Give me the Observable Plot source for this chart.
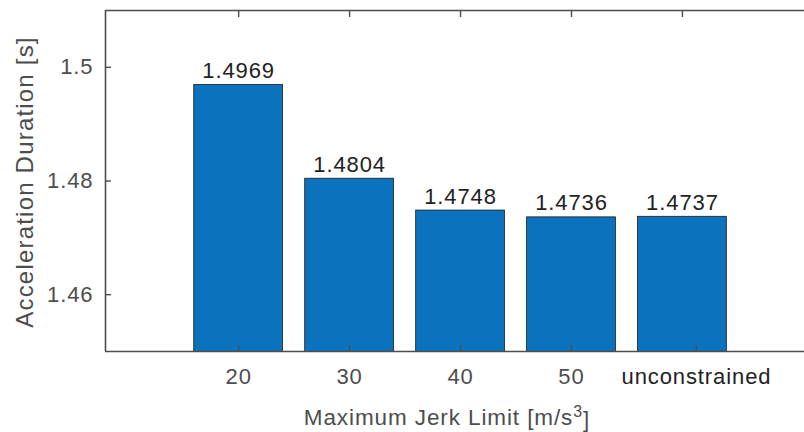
<!DOCTYPE html>
<html>
<head>
<meta charset="utf-8">
<script src="https://cdn.jsdelivr.net/npm/d3@7"></script>
<script src="https://cdn.jsdelivr.net/npm/@observablehq/plot@0.6"></script>
<style>
  html, body { margin: 0; padding: 0; background: #fff; }
  #chart svg { display: block; }
</style>
</head>
<body>
<div id="chart"></div>
<script>
// Jerk limit settings and the resulting acceleration durations (s)
const categories = ["20", "30", "40", "50", "unconstrained"];
const durations = [1.4969, 1.4804, 1.4748, 1.4736, 1.4737];
const yTicks = [1.46, 1.48, 1.5];
const yDomain = [1.45, 1.51];
const xDomain = [-0.2, 6.1];
const yLabel = "Acceleration Duration [s]";
const xLabelMain = "Maximum Jerk Limit [m/s";
const xLabelExp = "3";
const xLabelEnd = "]";

const positions = categories.map((_, i) => i + 1);
const bars = categories.map((c, i) => ({pos: i + 1, label: c, value: durations[i]}));

const axisColor = "#4d4d4d";
const inkColor = "#222222";
const font = {fontFamily: "'Liberation Sans', Arial, Helvetica, sans-serif", fontSize: "22px", letterSpacing: "0.9px"};

const chart = Plot.plot({
  width: 804,
  height: 432,
  marginLeft: 105,
  marginRight: 0,
  marginTop: 10,
  marginBottom: 81,
  style: {...font, background: "#fff", overflow: "visible"},
  x: {type: "linear", domain: xDomain},
  y: {domain: yDomain},
  marks: [
    Plot.rectY(bars, {
      x1: d => d.pos - 0.4,
      x2: d => d.pos + 0.4,
      y: "value",
      fill: "#0b72bd",
      stroke: "#1a1a1a",
      strokeWidth: 0.8,
      clip: true
    }),
    Plot.text(bars, {
      x: "pos",
      y: "value",
      text: d => d.value.toFixed(4),
      dy: -7,
      lineAnchor: "bottom",
      fill: inkColor,
      fontSize: 22
    }),
    // box lines: bottom, top and left
    Plot.ruleY(yDomain, {stroke: axisColor, strokeWidth: 1.6}),
    Plot.ruleX([xDomain[0]], {stroke: axisColor, strokeWidth: 1.6}),
    // y axis, ticks pointing inward
    Plot.axisY({
      ticks: yTicks,
      tickFormat: d => String(d),
      tickSize: -6,
      tickPadding: 18,
      stroke: axisColor,
      strokeWidth: 1.4,
      fill: axisColor,
      fontSize: 22,
      label: null
    }),
    // x axis, numeric limits in grey
    Plot.axisX({
      ticks: positions.slice(0, 4),
      tickFormat: p => categories[p - 1],
      tickSize: -6,
      tickPadding: 23,
      stroke: axisColor,
      strokeWidth: 1.4,
      fill: axisColor,
      fontSize: 22,
      label: null
    }),
    // x axis, the unconstrained case in dark text, set slightly right of its tick
    Plot.axisX({
      ticks: positions.slice(4),
      tickFormat: p => categories[p - 1],
      tickSize: -6,
      tickPadding: 23,
      stroke: axisColor,
      strokeWidth: 1.4,
      fill: inkColor,
      fontSize: 22,
      dx: 14,
      label: null
    }),
    // inward ticks along the top edge
    Plot.axisX({
      anchor: "top",
      ticks: positions,
      tickFormat: () => "",
      tickSize: -6,
      stroke: axisColor,
      strokeWidth: 1.4,
      label: null
    }),
    Plot.text([yLabel], {
      frameAnchor: "left",
      textAnchor: "middle",
      dx: -80,
      dy: 1,
      rotate: -90,
      fill: axisColor,
      fontSize: 24,
      className: "ylabel"
    }),
    Plot.text([xLabelMain + xLabelExp + xLabelEnd], {
      frameAnchor: "bottom",
      textAnchor: "middle",
      dx: -8,
      dy: 73,
      lineAnchor: "bottom",
      fill: axisColor,
      fontSize: 22.5,
      className: "xlabel"
    })
  ]
});

// wider tracking for the y-axis title
d3.select(chart).selectAll(".ylabel").style("letter-spacing", "1.2px");

// raise the exponent of the unit in the x-axis title
d3.select(chart).selectAll(".xlabel text").each(function () {
  const t = d3.select(this);
  t.text(null);
  t.append("tspan").text(xLabelMain);
  t.append("tspan").attr("dy", "-0.45em").attr("font-size", "16px").text(xLabelExp);
  t.append("tspan").attr("dy", "0.45em").text(xLabelEnd);
});

document.getElementById("chart").appendChild(chart);
</script>
</body>
</html>
